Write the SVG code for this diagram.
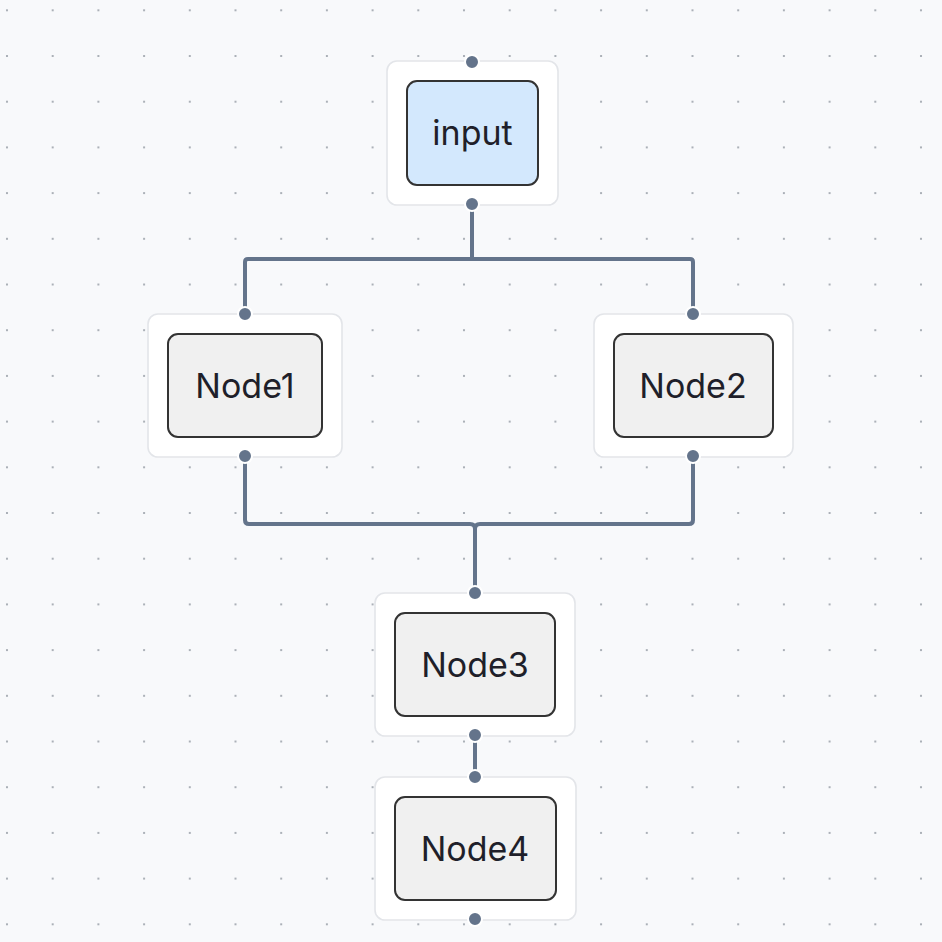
<svg xmlns="http://www.w3.org/2000/svg" width="942" height="942" viewBox="0 0 942 942">
<defs>
<pattern id="grid" x="7" y="10.3" width="45.7" height="45.7" patternUnits="userSpaceOnUse">
<circle cx="0" cy="0" r="1.1" fill="#9aa0a8"/>
<circle cx="45.7" cy="0" r="1.1" fill="#9aa0a8"/>
<circle cx="0" cy="45.7" r="1.1" fill="#9aa0a8"/>
<circle cx="45.7" cy="45.7" r="1.1" fill="#9aa0a8"/>
</pattern>
<style>
.outer{fill:#ffffff;stroke:#e3e5e9;stroke-width:1.6}
.inner{fill:#f0f0f0;stroke:#333333;stroke-width:2}
.in{fill:#d3e8fd}
.lbl{font-family:Inter,"Noto Sans",sans-serif;font-size:34px;fill:#1f1f2a;text-anchor:middle;dominant-baseline:central}
.h{fill:#64748b;stroke:#ffffff;stroke-width:2}
.e{fill:none;stroke:#64748b;stroke-width:4}
</style>
</defs>
<rect width="942" height="942" fill="#f8f9fb"/>
<rect width="942" height="942" fill="url(#grid)"/>
<g id="connectors">
<path class="e" d="M472 204 V259 H248 Q245 259 245 262 V314"/>
<path class="e" d="M472 259 H690 Q693 259 693 262 V314"/>
<path class="e" d="M245 456 V520 Q245 524 249 524 H470 Q475 524 475 529 V593"/>
<path class="e" d="M693 456 V520 Q693 524 689 524 H480 Q475 524 475 529"/>
<path class="e" d="M475 735 V777"/>
</g>
<g id="input">
<rect class="outer" x="387" y="61" width="171" height="144" rx="10"/>
<rect class="inner in" x="407" y="81" width="131" height="104" rx="10"/>
<text class="lbl" x="472.5" y="132">input</text>
<circle class="h" cx="472" cy="62" r="7"/>
<circle class="h" cx="472" cy="204" r="7"/>
</g>
<g id="node1">
<rect class="outer" x="148" y="314" width="194" height="143" rx="10"/>
<rect class="inner" x="168" y="334" width="154" height="103" rx="10"/>
<text class="lbl" x="245" y="385">Node1</text>
<circle class="h" cx="245" cy="314" r="7"/>
<circle class="h" cx="245" cy="456" r="7"/>
</g>
<g id="node2">
<rect class="outer" x="594" y="314" width="199" height="143" rx="10"/>
<rect class="inner" x="614" y="334" width="159" height="103" rx="10"/>
<text class="lbl" x="693" y="385">Node2</text>
<circle class="h" cx="693" cy="314" r="7"/>
<circle class="h" cx="693" cy="456" r="7"/>
</g>
<g id="node3">
<rect class="outer" x="375" y="593" width="200" height="143" rx="10"/>
<rect class="inner" x="395" y="613" width="160" height="103" rx="10"/>
<text class="lbl" x="475" y="664">Node3</text>
<circle class="h" cx="475" cy="593" r="7"/>
<circle class="h" cx="475" cy="735" r="7"/>
</g>
<g id="node4">
<rect class="outer" x="375" y="777" width="201" height="143" rx="10"/>
<rect class="inner" x="395" y="797" width="161" height="103" rx="10"/>
<text class="lbl" x="475" y="848">Node4</text>
<circle class="h" cx="475" cy="777" r="7"/>
<circle class="h" cx="475" cy="919" r="7"/>
</g>
</svg>
